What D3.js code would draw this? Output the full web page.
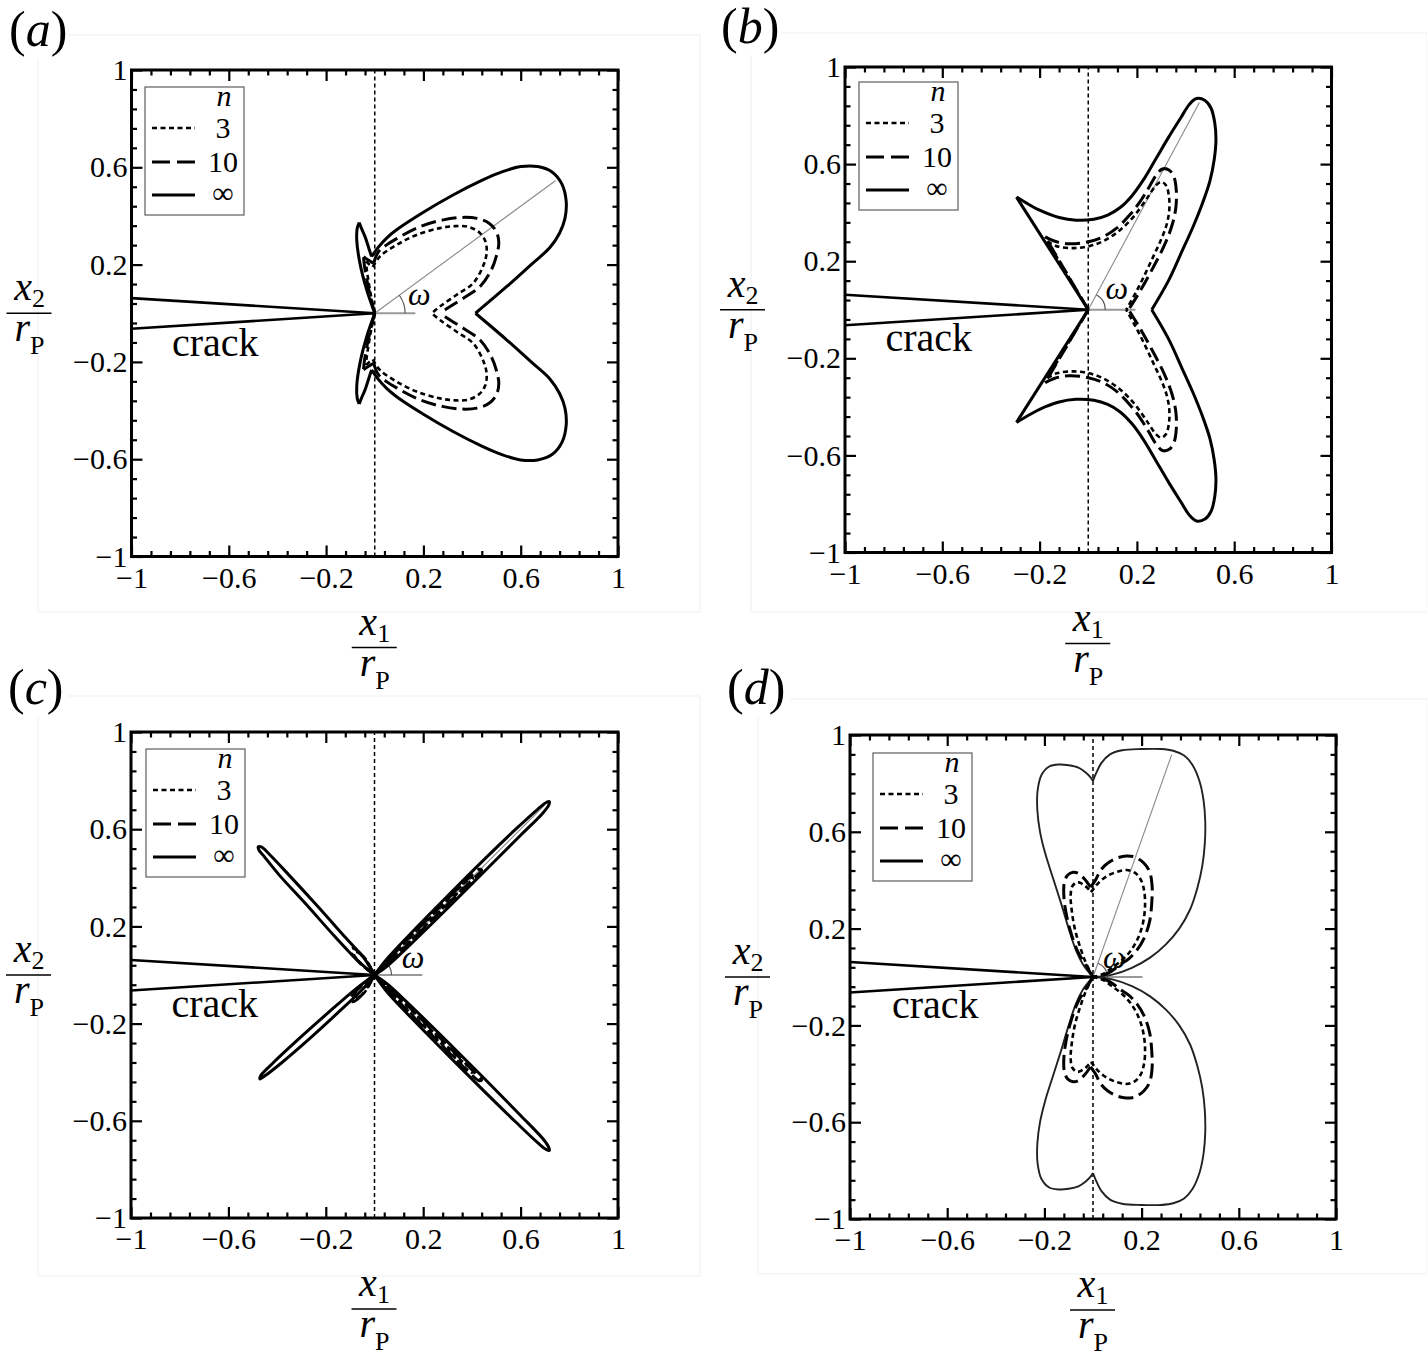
<!DOCTYPE html>
<html><head><meta charset="utf-8">
<script src="https://cdn.jsdelivr.net/npm/d3@7"></script>
<style>body{margin:0;background:#fff;} text{font-family:"Liberation Serif","Times New Roman",serif;fill:#000;}</style>
</head><body><svg id="chart" width="1427" height="1353"></svg>
<script>
// ---------------- DATA ----------------
const majorTicks = [-1, -0.6, -0.2, 0.2, 0.6, 1];
const majorTickLabels = ["−1", "−0.6", "−0.2", "0.2", "0.6", "1"];
const minorStep = 0.08;
const panelNames = ["(a)", "(b)", "(c)", "(d)"];
const seriesKeys = ["n3", "n10", "inf"];
const seriesLabels = ["3", "10", "∞"];
const legendTitle = "n";
const crackText = "crack";
const crackUpper = [[-1, 0.062], [0, 0]];
const crackLower = [[-1, -0.064], [0, 0]];

// Panel (a) — upper halves (segments), lower half is the mirror image
const a_inf_up = [
 [[0,0],[-0.033,0.096],[-0.061,0.206],[-0.074,0.3],[-0.072,0.35],[-0.064,0.373]],
 [[-0.064,0.373],[-0.055,0.35],[-0.04,0.315],[-0.022,0.26],[-0.013,0.233]],
 [[-0.013,0.233],[0.015,0.272],[0.05,0.31],[0.09,0.343],[0.2,0.415],[0.32,0.485],[0.44,0.546],[0.52,0.58],[0.6,0.603],[0.67,0.603],[0.73,0.58],[0.77,0.53],[0.787,0.46],[0.782,0.39],[0.76,0.33],[0.72,0.27],[0.643,0.2],[0.543,0.11],[0.414,0]]
];
const a_n10_up = [
 [[0,0],[-0.018,0.07],[-0.033,0.14],[-0.043,0.2],[-0.046,0.232]],
 [[-0.046,0.232],[-0.032,0.222],[-0.015,0.212],[-0.005,0.205]],
 [[-0.005,0.205],[0.015,0.252],[0.05,0.282],[0.09,0.307],[0.186,0.356],[0.282,0.384],[0.36,0.394],[0.42,0.39],[0.47,0.37],[0.5,0.335],[0.51,0.29],[0.5,0.235],[0.48,0.18],[0.433,0.11],[0.364,0.062],[0.31,0.028],[0.268,0]]
];
const a_n3_up = [
 [[0,0],[-0.015,0.07],[-0.027,0.14],[-0.034,0.19],[-0.035,0.213]],
 [[-0.035,0.213],[-0.022,0.2],[-0.008,0.19]],
 [[-0.008,0.19],[0.021,0.233],[0.09,0.281],[0.172,0.322],[0.268,0.35],[0.33,0.358],[0.385,0.355],[0.43,0.332],[0.455,0.295],[0.46,0.25],[0.448,0.2],[0.405,0.124],[0.337,0.076],[0.268,0.028],[0.234,0]]
];

// Panel (b)
const b_inf_up = [
 [[0,0],[-0.295,0.464]],
 [[-0.295,0.464],[-0.263,0.445],[-0.2,0.41],[-0.12,0.38],[-0.05,0.369],[0.023,0.373],[0.08,0.39],[0.13,0.42],[0.18,0.47],[0.23,0.54],[0.28,0.625],[0.33,0.71],[0.38,0.79],[0.415,0.845],[0.445,0.87],[0.48,0.862],[0.505,0.83],[0.52,0.77],[0.525,0.7],[0.518,0.62],[0.5,0.53],[0.47,0.44],[0.43,0.34],[0.385,0.24],[0.33,0.12],[0.261,0]]
];
const b_n10_up = [
 [[0,0],[-0.177,0.3]],
 [[-0.177,0.3],[-0.14,0.283],[-0.08,0.272],[0.0,0.28],[0.06,0.3],[0.118,0.337],[0.17,0.39],[0.213,0.445],[0.25,0.505],[0.28,0.555],[0.305,0.58],[0.333,0.575],[0.353,0.545],[0.362,0.49],[0.36,0.42],[0.345,0.35],[0.315,0.27],[0.27,0.18],[0.215,0.08],[0.166,0]]
];
const b_n3_up = [
 [[0,0],[-0.168,0.282]],
 [[-0.168,0.282],[-0.13,0.262],[-0.06,0.254],[0.004,0.262],[0.06,0.282],[0.118,0.318],[0.17,0.365],[0.213,0.418],[0.25,0.472],[0.278,0.512],[0.3,0.527],[0.32,0.512],[0.332,0.465],[0.333,0.409],[0.322,0.35],[0.3,0.29],[0.27,0.225],[0.235,0.15],[0.195,0.07],[0.156,0]]
];

// Panel (c) — closed petals
const c_inf_loops = [
 [[0,0],[0.05,0.065],[0.15,0.172],[0.3,0.325],[0.45,0.475],[0.58,0.6],[0.67,0.682],[0.705,0.71],[0.718,0.714],[0.715,0.698],[0.69,0.665],[0.6,0.575],[0.45,0.425],[0.3,0.275],[0.15,0.128],[0.05,0.035],[0,0]],
 [[0,0],[0.05,-0.035],[0.15,-0.128],[0.3,-0.275],[0.45,-0.425],[0.6,-0.578],[0.69,-0.672],[0.715,-0.708],[0.718,-0.722],[0.705,-0.718],[0.67,-0.69],[0.58,-0.605],[0.45,-0.478],[0.3,-0.328],[0.15,-0.175],[0.05,-0.068],[0,0]],
 [[0,0],[-0.04,0.065],[-0.12,0.155],[-0.24,0.29],[-0.35,0.41],[-0.43,0.495],[-0.465,0.527],[-0.478,0.527],[-0.475,0.515],[-0.455,0.49],[-0.39,0.41],[-0.28,0.29],[-0.16,0.155],[-0.07,0.06],[0,0]],
 [[0,0],[-0.05,-0.06],[-0.15,-0.155],[-0.27,-0.265],[-0.38,-0.36],[-0.45,-0.415],[-0.47,-0.428],[-0.468,-0.415],[-0.42,-0.365],[-0.31,-0.262],[-0.19,-0.155],[-0.08,-0.06],[0,0]]
];
const c_n10_loops = [
 [[0,0],[0.1,0.11],[0.25,0.262],[0.38,0.393],[0.43,0.435],[0.44,0.432],[0.4,0.39],[0.26,0.25],[0.12,0.11],[0,0]],
 [[0,0],[0.12,-0.11],[0.26,-0.25],[0.4,-0.39],[0.44,-0.432],[0.43,-0.435],[0.38,-0.393],[0.25,-0.262],[0.1,-0.11],[0,0]],
 [[0,0],[-0.05,0.08],[-0.09,0.11],[-0.1,0.1],[-0.06,0.05],[0,0]],
 [[0,0],[-0.05,-0.08],[-0.09,-0.11],[-0.1,-0.1],[-0.06,-0.05],[0,0]]
];
const c_n3_loops = [
 [[0,0],[0.1,0.108],[0.25,0.258],[0.36,0.37],[0.4,0.402],[0.405,0.395],[0.36,0.355],[0.25,0.243],[0.1,0.093],[0,0]],
 [[0,0],[0.1,-0.093],[0.25,-0.243],[0.36,-0.355],[0.405,-0.395],[0.4,-0.402],[0.36,-0.37],[0.25,-0.258],[0.1,-0.108],[0,0]],
 [[0,0],[-0.04,0.07],[-0.075,0.095],[-0.085,0.088],[-0.05,0.04],[0,0]],
 [[0,0],[-0.04,-0.07],[-0.075,-0.095],[-0.085,-0.088],[-0.05,-0.04],[0,0]]
];

// Panel (d)
const d_inf_up = [
 [[0,0],[-0.04,0.05],[-0.07,0.11],[-0.1,0.2],[-0.13,0.3],[-0.165,0.41],[-0.197,0.512],[-0.218,0.6],[-0.229,0.689],[-0.228,0.77],[-0.212,0.835],[-0.18,0.87],[-0.14,0.878],[-0.1,0.875],[-0.06,0.865],[-0.03,0.845],[-0.01,0.825],[0,0.81]],
 [[0,0.81],[0.012,0.84],[0.035,0.885],[0.07,0.92],[0.12,0.937],[0.2,0.942],[0.28,0.942],[0.33,0.935],[0.375,0.915],[0.41,0.875],[0.438,0.81],[0.455,0.73],[0.462,0.64],[0.46,0.55],[0.45,0.46],[0.43,0.37],[0.4,0.28],[0.355,0.2],[0.3,0.135],[0.235,0.08],[0.16,0.038],[0.08,0.01],[0,0]]
];
const d_n10_up = [
 [[0,0],[-0.03,0.05],[-0.063,0.106],[-0.09,0.18],[-0.11,0.26],[-0.12,0.336],[-0.118,0.39],[-0.105,0.42],[-0.082,0.433],[-0.06,0.428],[-0.035,0.405],[-0.01,0.371]],
 [[-0.01,0.371],[0.01,0.4],[0.032,0.442],[0.06,0.47],[0.1,0.492],[0.137,0.5],[0.175,0.495],[0.21,0.47],[0.233,0.435],[0.243,0.38],[0.242,0.31],[0.233,0.23],[0.21,0.16],[0.18,0.11],[0.147,0.075],[0.11,0.05],[0.07,0.02],[0.03,0.005],[0,0]]
];
const d_n3_up = [
 [[0,0],[-0.03,0.06],[-0.053,0.124],[-0.075,0.2],[-0.088,0.28],[-0.092,0.336],[-0.085,0.375],[-0.065,0.392],[-0.045,0.385],[-0.025,0.37],[-0.008,0.35]],
 [[-0.008,0.35],[0.01,0.375],[0.032,0.398],[0.06,0.418],[0.1,0.435],[0.137,0.442],[0.17,0.432],[0.195,0.405],[0.21,0.36],[0.214,0.29],[0.205,0.22],[0.185,0.16],[0.156,0.11],[0.12,0.07],[0.08,0.04],[0.04,0.012],[0,0]]
];

// omega line end points, base-line length, label positions (data units)
const omegaEnds = [[0.744,0.546],[0.457,0.854],[0.70,0.70],[0.324,0.919]];
const omegaBaseLen = [0.167, 0.194, 0.196, 0.204];
const omegaLabelPos = [[0.137,0.035],[0.071,0.046],[0.112,0.027],[0.041,0.038]];
const omegaArcR = [0.125, 0.07, 0.07, 0.06];
const crackLabelPos = [[-0.834,-0.175],[-0.834,-0.171],[-0.834,-0.173],[-0.827,-0.169]];

// ---------------- LAYOUT ----------------
const boxes = [
 {l:131.5, t:70,  w:486.5, h:486.5},
 {l:845,   t:67,  w:486.5, h:485.5},
 {l:131,   t:732, w:487,   h:486},
 {l:850,   t:735, w:486,   h:484}
];
// faint frames: [left, top, right, bottom, topLineStartX, leftLineStopY]
const frames = [[38,35,700,612,68,58],[751,33,1427,612,782,55],[38,696,700,1276,68,717],[758,699,1427,1274,790,717]];
const labelPos = [[9,46],[721,43],[8,704],[727,704]];
const legendOff = [[13.5,17],[14,15],[15,17],[23,18]];

const styles = {
  n3:  {dash:"5,3.5", w:2.6, color:"#000"},
  n10: {dash:"15,6",  w:3,   color:"#000"},
  inf: {dash:null,    w:3,   color:"#000"}
};

const panelData = [
 {mode:"mirror", n3:a_n3_up, n10:a_n10_up, inf:a_inf_up},
 {mode:"mirror", n3:b_n3_up, n10:b_n10_up, inf:b_inf_up},
 {mode:"loops",  n3:c_n3_loops, n10:c_n10_loops, inf:c_inf_loops},
 {mode:"mirror", n3:d_n3_up, n10:d_n10_up, inf:d_inf_up, infThin:true}
];

const svg = d3.select("#chart");
svg.append("rect").attr("width",1427).attr("height",1353).attr("fill","#fff");

// faint outer frames (open where the panel label sits)
frames.forEach(f => {
  svg.append("path").attr("d", `M${f[4]},${f[1]} H${f[2]} V${f[3]} H${f[0]} V${f[5]}`)
    .attr("fill","none").attr("stroke","#efefef").attr("stroke-width",1);
});

const minorTicks = d3.range(-1, 1.0001, minorStep).map(v => +v.toFixed(2))
  .filter(v => !majorTicks.some(m => Math.abs(m - v) < 1e-6));

function fraction(g, cx, cy, num, numSub, den, denSub) {
  g.append("line").attr("x1",cx-23).attr("x2",cx+22).attr("y1",cy).attr("y2",cy)
    .attr("stroke","#000").attr("stroke-width",1.6);
  const t1 = g.append("text").attr("x",cx).attr("y",cy-13).attr("text-anchor","middle");
  t1.append("tspan").attr("font-style","italic").attr("font-size",40).text(num);
  t1.append("tspan").attr("font-size",26).attr("dy",7).text(numSub);
  const t2 = g.append("text").attr("x",cx).attr("y",cy+28).attr("text-anchor","middle");
  t2.append("tspan").attr("font-style","italic").attr("font-size",40).text(den);
  t2.append("tspan").attr("font-size",26).attr("dy",13).text(denSub);
}

panelData.forEach((pd, i) => {
  const B = boxes[i];
  const g = svg.append("g").attr("transform", `translate(${B.l},${B.t})`);
  const x = d3.scaleLinear().domain([-1,1]).range([0,B.w]);
  const y = d3.scaleLinear().domain([-1,1]).range([B.h,0]);
  const line = d3.line().x(d=>x(d[0])).y(d=>y(d[1])).curve(d3.curveCatmullRom.alpha(0.5));
  const straight = d3.line().x(d=>x(d[0])).y(d=>y(d[1]));

  // vertical dashed line x=0
  g.append("path").attr("d", straight([[0,-1],[0,1]])).attr("fill","none")
    .attr("stroke","#000").attr("stroke-width",1.5).attr("stroke-dasharray","4,3");

  // omega reference lines
  const oe = omegaEnds[i];
  g.append("path").attr("d", straight([[0,0],oe])).attr("stroke","#8a8a8a").attr("stroke-width",1.1).attr("fill","none");
  g.append("path").attr("d", straight([[0,0],[omegaBaseLen[i],0]])).attr("stroke","#999").attr("stroke-width",2).attr("fill","none");
  const ang = Math.atan2(y(0)-y(oe[1]), x(oe[0])-x(0));
  const r = x(omegaArcR[i]) - x(0);
  g.append("path").attr("d", `M${x(0)+r},${y(0)} A${r},${r} 0 0 0 ${x(0)+r*Math.cos(ang)},${y(0)-r*Math.sin(ang)}`)
    .attr("fill","none").attr("stroke","#555").attr("stroke-width",1.2);

  // curves
  ["inf","n10","n3"].forEach(k => {
    const st = styles[k];
    let segs;
    if (pd.mode === "mirror") {
      segs = [];
      pd[k].forEach(s => { segs.push(s); segs.push(s.map(p => [p[0], -p[1]])); });
    } else segs = pd[k];
    segs.forEach(s => {
      const p = g.append("path").attr("d", line(s)).attr("fill","none")
        .attr("stroke", (k==="inf" && pd.infThin) ? "#222" : st.color)
        .attr("stroke-width", (k==="inf" && pd.infThin) ? 1.9 : st.w)
        .attr("stroke-linejoin","round");
      if (st.dash) p.attr("stroke-dasharray", st.dash);
    });
  });

  // crack
  [crackUpper, crackLower].forEach(c => {
    g.append("path").attr("d", straight(c)).attr("stroke","#000").attr("stroke-width",2.6).attr("fill","none");
  });
  g.append("text").attr("x", x(crackLabelPos[i][0])).attr("y", y(crackLabelPos[i][1]))
    .attr("font-size",40).text(crackText);
  g.append("text").attr("x", x(omegaLabelPos[i][0])).attr("y", y(omegaLabelPos[i][1]))
    .attr("font-size",32).attr("font-style","italic").text("ω");

  // axes
  const fmt = (d) => majorTickLabels[majorTicks.findIndex(m => Math.abs(m-d)<1e-9)];
  const styleAxis = sel => {
    sel.select(".domain").remove();
    sel.selectAll("line").attr("stroke","#000").attr("stroke-width",2.2);
    sel.selectAll("text").attr("font-size",30).attr("font-family","Liberation Serif, serif").attr("fill","#000");
    sel.attr("font-size",null).attr("font-family",null);
  };
  g.append("g").attr("transform",`translate(0,${B.h})`)
    .call(d3.axisBottom(x).tickValues(majorTicks).tickSize(-11).tickPadding(10).tickFormat(fmt)).call(styleAxis);
  g.append("g").attr("transform",`translate(0,${B.h})`)
    .call(d3.axisBottom(x).tickValues(minorTicks).tickSize(-5.5).tickFormat("")).call(styleAxis);
  g.append("g").call(d3.axisTop(x).tickValues(majorTicks).tickSize(-11).tickFormat("")).call(styleAxis);
  g.append("g").call(d3.axisTop(x).tickValues(minorTicks).tickSize(-5.5).tickFormat("")).call(styleAxis);
  g.append("g").call(d3.axisLeft(y).tickValues(majorTicks).tickSize(-11).tickPadding(4).tickFormat(fmt)).call(styleAxis);
  g.append("g").call(d3.axisLeft(y).tickValues(minorTicks).tickSize(-5.5).tickFormat("")).call(styleAxis);
  g.append("g").attr("transform",`translate(${B.w},0)`)
    .call(d3.axisRight(y).tickValues(majorTicks).tickSize(-11).tickFormat("")).call(styleAxis);
  g.append("g").attr("transform",`translate(${B.w},0)`)
    .call(d3.axisRight(y).tickValues(minorTicks).tickSize(-5.5).tickFormat("")).call(styleAxis);
  g.append("rect").attr("width",B.w).attr("height",B.h).attr("fill","none")
    .attr("stroke","#000").attr("stroke-width",3);

  // legend
  const lo = legendOff[i];
  const lg = g.append("g").attr("transform",`translate(${lo[0]},${lo[1]})`);
  lg.append("rect").attr("width",99).attr("height",128).attr("fill","#fff")
    .attr("stroke","#6a6a6a").attr("stroke-width",1.3);
  lg.append("text").attr("x",79).attr("y",19).attr("text-anchor","middle")
    .attr("font-style","italic").attr("font-size",30).text(legendTitle);
  const rowY = [41, 75, 108];
  seriesKeys.forEach((k, j) => {
    const st = styles[k];
    const l = lg.append("line").attr("x1",7).attr("x2",50).attr("y1",rowY[j]).attr("y2",rowY[j])
      .attr("stroke","#000").attr("stroke-width",st.w);
    if (k==="n10") l.attr("stroke-dasharray","18,7");
    else if (st.dash) l.attr("stroke-dasharray", st.dash);
    lg.append("text").attr("x",78).attr("y",rowY[j] + (k==="inf" ? 8 : 10)).attr("text-anchor","middle")
      .attr("font-size",30).text(seriesLabels[j]);
  });

  // axis titles
  fraction(g, -102, y(0), "x", "2", "r", "P");
  fraction(g, x(0), B.h + 91, "x", "1", "r", "P");

  // panel label
  const pl = svg.append("text").attr("x",labelPos[i][0]).attr("y",labelPos[i][1]).attr("font-size",50);
  const nm = panelNames[i];
  pl.append("tspan").text("(");
  pl.append("tspan").attr("font-style","italic").text(nm.slice(1,-1));
  pl.append("tspan").text(")");
});
</script></body></html>
